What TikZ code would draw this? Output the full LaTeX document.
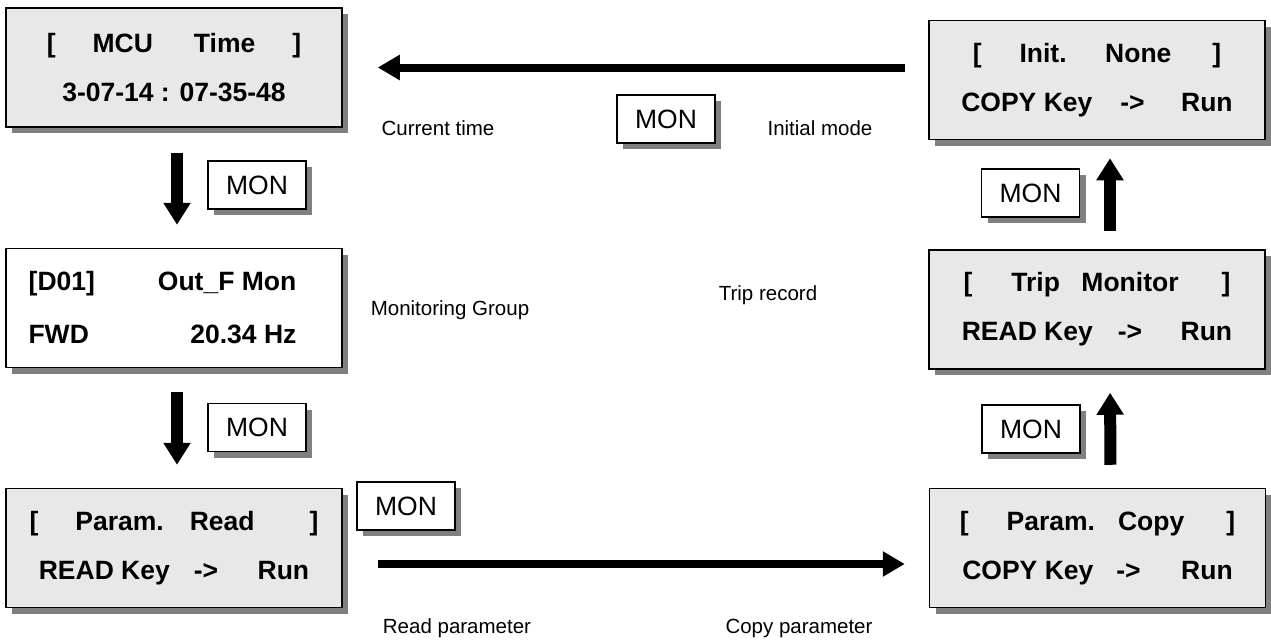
\documentclass[tikz,border=0pt]{standalone}
\usepackage{fontspec}
\setmainfont{Liberation Sans}
\usetikzlibrary{arrows.meta,shadows}

\tikzset{
  lcd/.style={draw, line width=1.5pt, fill=black!9, minimum width=336pt, minimum height=119pt,
    inner sep=0pt, align=center, font=\fontsize{26.5}{49}\selectfont\bfseries,
    drop shadow={shadow xshift=6pt, shadow yshift=-6pt, fill=black!50, opacity=1}},
  monkey/.style={draw, line width=1.2pt, fill=white, minimum width=98pt, minimum height=48pt,
    inner sep=0pt, font=\fontsize{26.5}{30}\selectfont,
    drop shadow={shadow xshift=6pt, shadow yshift=-6pt, fill=black!50, opacity=1}},
  note/.style={font=\fontsize{20.5}{24}\selectfont},
  fatarrow/.style={line width=12pt, -{Triangle[width=26pt,length=22pt]}},
  sidearrow/.style={line width=8pt, -{Triangle[width=24pt,length=22pt]}}
}

\begin{document}
\begin{tikzpicture}[x=1pt,y=1pt]
\useasboundingbox (0,0) rectangle (1271,-643);

% display screens, left column
\node[lcd] (mcu) at (174,-67.5) {[\hspace*{37pt}MCU\hspace*{41pt}Time\hspace*{37pt}]\\3-07-14 : 07-35-48};
\node[lcd, fill=white, font=\fontsize{26.5}{53}\selectfont\bfseries] (d01) at (174,-308) {[D01]\hspace*{63pt}Out\_F Mon\hspace*{23pt}\\FWD\hspace*{101.5pt}20.34 Hz\hspace*{23pt}};
\node[lcd] (pread) at (174,-548) {[\hspace*{37pt}Param.\hspace*{26pt}Read\hspace*{55pt}]\\READ Key\hspace*{24pt}->\hspace*{39.5pt}Run};

% display screens, right column
\node[lcd] (init) at (1097,-80) {[\hspace*{38pt}Init.\hspace*{38.5pt}None\hspace*{41pt}]\\COPY Key\hspace*{28pt}->\hspace*{36.5pt}Run};
\node[lcd] (trip) at (1097,-309.5) {[\hspace*{39pt}Trip\hspace*{21.5pt}Monitor\hspace*{43pt}]\\READ Key\hspace*{25pt}->\hspace*{38.5pt}Run};
\node[lcd] (pcopy) at (1097.5,-548) {[\hspace*{38pt}Param.\hspace*{23pt}Copy\hspace*{42pt}]\\COPY Key\hspace*{23pt}->\hspace*{40.5pt}Run};

% MON keys
\node[monkey] (mon1) at (257,-185) {MON};
\node[monkey] (mon2) at (257,-427.5) {MON};
\node[monkey] (mon3) at (406,-506) {MON};
\node[monkey] (mon4) at (666,-119) {MON};
\node[monkey] (mon5) at (1030.5,-193) {MON};
\node[monkey] (mon6) at (1031,-429) {MON};

% captions
\node[note] (curtime) at (438,-128) {Current time};
\node[note] (initmode) at (820,-128) {Initial mode};
\node[note] (mongrp) at (450,-310) {Monitoring Group};
\node[note] (triprec) at (768,-295) {Trip record};
\node[note] (readpar) at (457,-628) {Read parameter};
\node[note] (copypar) at (799,-628) {Copy parameter};

% key flow
\draw[fatarrow, shorten <=25pt, shorten >=23pt] ([xshift=3pt]mcu.south) -- ([xshift=3pt]d01.north);
\draw[fatarrow, shorten <=24pt, shorten >=23pt] ([xshift=3pt]d01.south) -- ([xshift=3pt]pread.north);
\draw[sidearrow, shorten <=35pt, shorten >=24pt] ([yshift=-16pt]pread.east) -- ([yshift=-16pt]pcopy.west);
\draw[fatarrow, shorten <=23pt, shorten >=23pt] ([xshift=13pt]pcopy.north) -- ([xshift=13pt]trip.south);
\draw[fatarrow, shorten <=18pt, shorten >=18pt] ([xshift=13pt]trip.north) -- ([xshift=13pt]init.south);
\draw[sidearrow, shorten <=23pt, shorten >=35pt] (init.west |- mcu.east) -- (mcu.east);
\end{tikzpicture}
\end{document}
